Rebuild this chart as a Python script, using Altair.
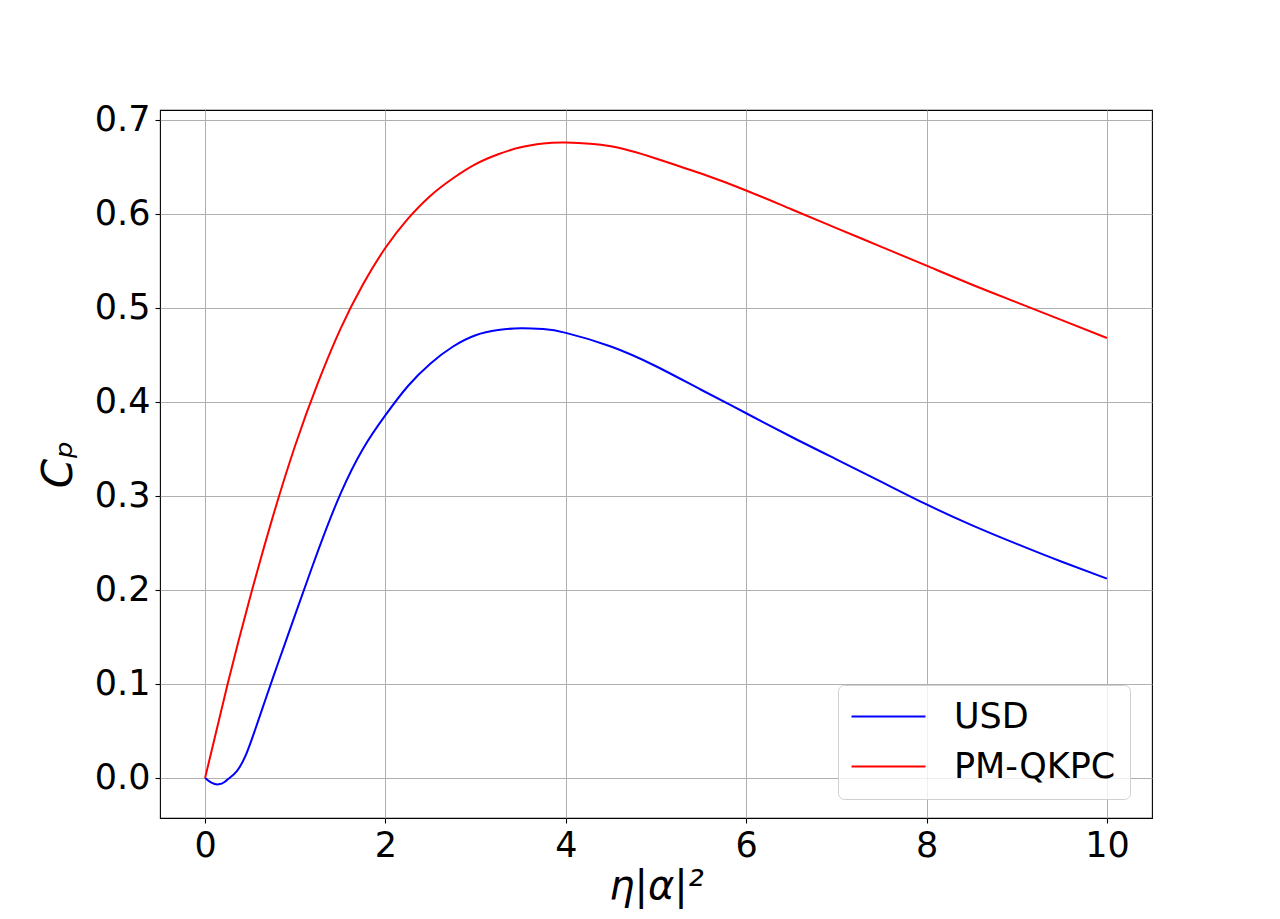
import altair as alt
import pandas as pd

# Series
x_usd = [0, 0.07, 0.15, 0.22, 0.27, 0.35, 0.45, 0.55, 0.65, 0.75, 0.875, 1.0,
         1.25, 1.5, 1.75, 2.0, 2.25, 2.5, 2.75, 3.0, 3.25, 3.5, 3.75, 4.0, 4.5,
         5.0, 5.5, 6.0, 6.5, 7.0, 7.5, 8.0, 8.5, 9.0, 9.5, 10.0]
y_usd = [0, -0.005, -0.0068, -0.004, 0.0, 0.007, 0.024, 0.050, 0.078, 0.106, 0.140,
         0.174, 0.241, 0.302, 0.350, 0.386, 0.417, 0.441, 0.459, 0.471, 0.4765,
         0.4785, 0.4775, 0.4735, 0.459, 0.438, 0.413, 0.388, 0.363, 0.339, 0.315,
         0.291, 0.269, 0.249, 0.230, 0.212]

x_pm = [0, 0.25, 0.5, 0.75, 1.0, 1.25, 1.5, 1.75, 2.0, 2.25, 2.5, 2.75, 3.0, 3.25,
        3.5, 3.75, 4.0, 4.5, 5.0, 5.5, 6.0, 6.5, 7.0, 7.5, 8.0, 8.5, 9.0, 9.5, 10.0]
y_pm = [0, 0.100, 0.1925, 0.2775, 0.354, 0.420, 0.4775, 0.525, 0.564, 0.595, 0.6195,
        0.638, 0.653, 0.6635, 0.671, 0.675, 0.676, 0.672, 0.659, 0.643, 0.625, 0.605,
        0.585, 0.565, 0.545, 0.525, 0.506, 0.487, 0.468]

series_names = ["USD", "PM-QKPC"]
series_colors = ["#0000ff", "#ff0000"]
x_ticks = [0, 2, 4, 6, 8, 10]
y_ticks = [0.0, 0.1, 0.2, 0.3, 0.4, 0.5, 0.6, 0.7]

df = pd.concat([
    pd.DataFrame({"x": x_usd, "y": y_usd, "series": "USD", "order": range(len(x_usd))}),
    pd.DataFrame({"x": x_pm, "y": y_pm, "series": "PM-QKPC", "order": range(len(x_pm))}),
])

FONT = "DejaVu Sans"

chart = alt.Chart(df).mark_line(strokeWidth=2, interpolate="natural").encode(
    x=alt.X("x:Q",
            scale=alt.Scale(domain=[-0.5, 10.5], nice=False, zero=False),
            axis=alt.Axis(values=x_ticks, title="η|α|²", format="d",
                          titleFontStyle="italic", titleFontWeight="normal",
                          titleFontSize=40, titlePadding=3)),
    y=alt.Y("y:Q",
            scale=alt.Scale(domain=[-0.0426, 0.7106], nice=False, zero=False),
            axis=alt.Axis(values=y_ticks, title="Cₚ", format=".1f",
                          titleFontStyle="italic", titleFontWeight="normal",
                          titleFontSize=42, titlePadding=14)),
    color=alt.Color("series:N",
                    scale=alt.Scale(domain=series_names, range=series_colors),
                    legend=alt.Legend(title=None, orient="none", legendX=678, legendY=575,
                                      symbolType="M-3,0H3", symbolSize=608,
                                      symbolOffset=19,
                                      symbolStrokeWidth=2, labelFontSize=35,
                                      labelFont=FONT, labelOffset=48, labelLimit=0,
                                      rowPadding=14,
                                      padding=14, cornerRadius=6,
                                      strokeColor="#d0d0d0", fillColor="rgba(255,255,255,0.8)")),
    order="order:Q",
).properties(
    width=992, height=708,
    autosize=alt.AutoSizeParams(type="none"),
    padding={"left": 152, "top": 102, "right": 110, "bottom": 93},
).configure_view(
    stroke="black", strokeWidth=1.1
).configure_axis(
    grid=True, gridColor="#b0b0b0", gridWidth=1,
    domain=False, tickColor="black", tickSize=5, tickWidth=1.1,
    labelFont=FONT, labelFontSize=35, labelColor="black", labelPadding=5,
    titleFont=FONT, titleColor="black",
).configure_legend(
    labelColor="black"
)

chart.save("out.html", embed_options={"renderer": "svg", "actions": False})
